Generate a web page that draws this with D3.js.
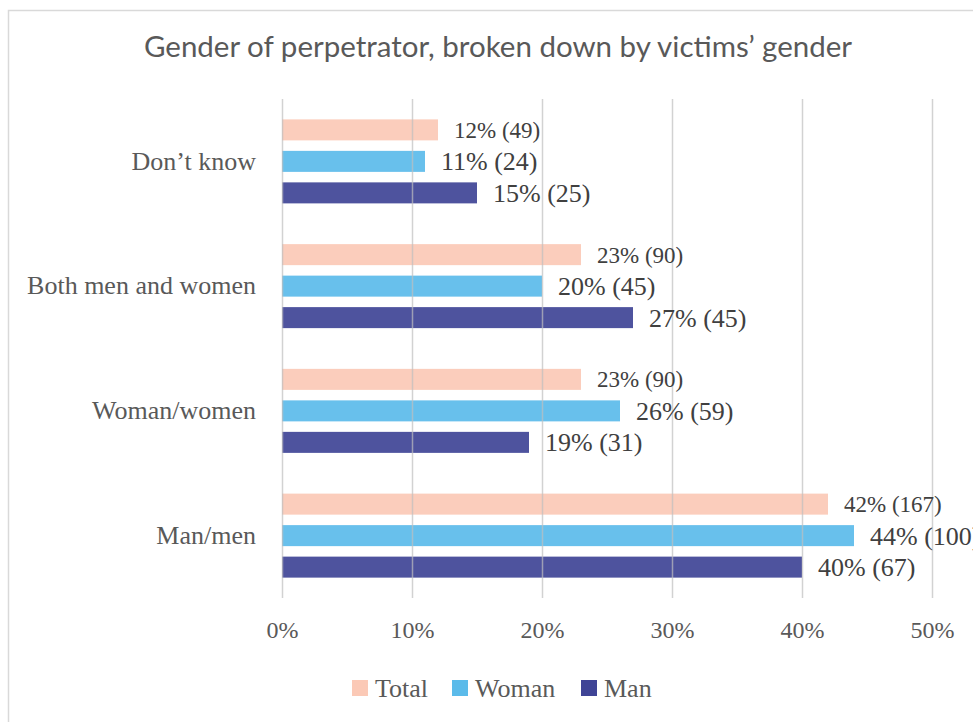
<!DOCTYPE html>
<html>
<head>
<meta charset="utf-8">
<script src="https://cdn.jsdelivr.net/npm/d3@7"></script>
<style>
	body { margin: 0; background: #fff; }
	svg { display: block; }
	.serif { font-family: "Liberation Serif", "Times New Roman", serif; }
</style>
</head>
<body>
<div id="chart"></div>
<script>
// chart data
var categories = ['Don\u2019t know', 'Both men and women', 'Woman/women', 'Man/men'];
var seriesNames = ['Total', 'Woman', 'Man'];
var totalPct = [12, 23, 23, 42];
var totalCount = [49, 90, 90, 167];
var womanPct = [11, 20, 26, 44];
var womanCount = [24, 45, 59, 100];
var manPct = [15, 27, 19, 40];
var manCount = [25, 45, 31, 67];
var tickValues = [0, 10, 20, 30, 40, 50];

var colors = ['#fbc9b6', '#5bbbea', '#3f4496'];

var width = 973, height = 722;
var plot = { left: 282, right: 932, top: 99, bottom: 598 };
var groupHeight = 84;

var svg = d3.select('#chart').append('svg')
	.attr('width', width)
	.attr('height', height);

// outer chart border
svg.append('rect')
	.attr('x', 8.5).attr('y', 10.5)
	.attr('width', 1000).attr('height', 800)
	.attr('fill', 'none')
	.attr('stroke', '#d9d9d9')
	.attr('stroke-width', 1.5);

svg.append('text')
	.attr('x', 498).attr('y', 57)
	.attr('text-anchor', 'middle')
	.style('font-family', 'Lato, "Open Sans", sans-serif')
	.style('font-size', '29.5px')
	.attr('fill', '#595959')
	.text('Gender of perpetrator, broken down by victims\u2019 gender');

var x = d3.scaleLinear().domain([0, 50]).range([plot.left, plot.right]);
var y = d3.scaleBand().domain(categories).range([plot.top, plot.bottom]);
var inner = d3.scaleBand().domain(seriesNames).range([0, groupHeight]).paddingInner(0.333);

var rows = [];
categories.forEach(function (c, i) {
	rows.push({ cat: c, series: 'Total', pct: totalPct[i], n: totalCount[i], size: 23 });
	rows.push({ cat: c, series: 'Woman', pct: womanPct[i], n: womanCount[i], size: 26 });
	rows.push({ cat: c, series: 'Man', pct: manPct[i], n: manCount[i], size: 26 });
});

var color = d3.scaleOrdinal().domain(seriesNames).range(colors);

function barY(d) {
	return y(d.cat) + (y.bandwidth() - groupHeight) / 2 + inner(d.series);
}

svg.selectAll('.bar')
	.data(rows)
	.enter().append('rect')
	.attr('class', 'bar')
	.attr('x', x(0))
	.attr('y', barY)
	.attr('width', function (d) { return x(d.pct) - x(0); })
	.attr('height', inner.bandwidth())
	.attr('fill', function (d) { return color(d.series); })
	.attr('fill-opacity', 0.92);

// gridlines drawn over bars, they show through in the original
var grid = svg.append('g')
	.attr('transform', 'translate(0,' + plot.bottom + ')')
	.call(d3.axisBottom(x).tickValues(tickValues).tickSize(-(plot.bottom - plot.top)).tickFormat(''));
grid.select('.domain').remove();
grid.selectAll('line').attr('stroke', '#bfbfbf').attr('stroke-opacity', 0.7).attr('stroke-width', 1.5);

var xAxis = svg.append('g')
	.attr('transform', 'translate(0,' + plot.bottom + ')')
	.call(d3.axisBottom(x).tickValues(tickValues).tickSize(0).tickPadding(23)
		.tickFormat(function (d) { return d + '%'; }));
xAxis.select('.domain').remove();
xAxis.selectAll('text')
	.attr('class', 'serif')
	.style('font-size', '24px')
	.attr('fill', '#595959');

var yAxis = svg.append('g')
	.attr('transform', 'translate(' + plot.left + ',0)')
	.call(d3.axisLeft(y).tickSize(0).tickPadding(26));
yAxis.select('.domain').remove();
yAxis.selectAll('text')
	.attr('class', 'serif')
	.style('font-size', '26px')
	.attr('fill', '#595959');

svg.selectAll('.label')
	.data(rows)
	.enter().append('text')
	.attr('class', 'label serif')
	.attr('x', function (d) { return x(d.pct) + 16; })
	.attr('y', function (d) { return barY(d) + inner.bandwidth() / 2; })
	.attr('dy', '0.35em')
	.style('font-size', function (d) { return d.size + 'px'; })
	.attr('fill', '#404040')
	.text(function (d) { return d.pct + '% (' + d.n + ')'; });

// legend
var legend = svg.append('g').attr('transform', 'translate(352,688)');
var legendX = [0, 100, 229];
seriesNames.forEach(function (s, i) {
	var g = legend.append('g').attr('transform', 'translate(' + legendX[i] + ',0)');
	g.append('rect')
		.attr('x', 0).attr('y', -8)
		.attr('width', 16).attr('height', 16)
		.attr('fill', color(s));
	g.append('text')
		.attr('class', 'serif')
		.attr('x', 23).attr('y', 0)
		.attr('dy', '0.35em')
		.style('font-size', '26px')
		.attr('fill', '#595959')
		.text(s);
});
</script>
</body>
</html>
